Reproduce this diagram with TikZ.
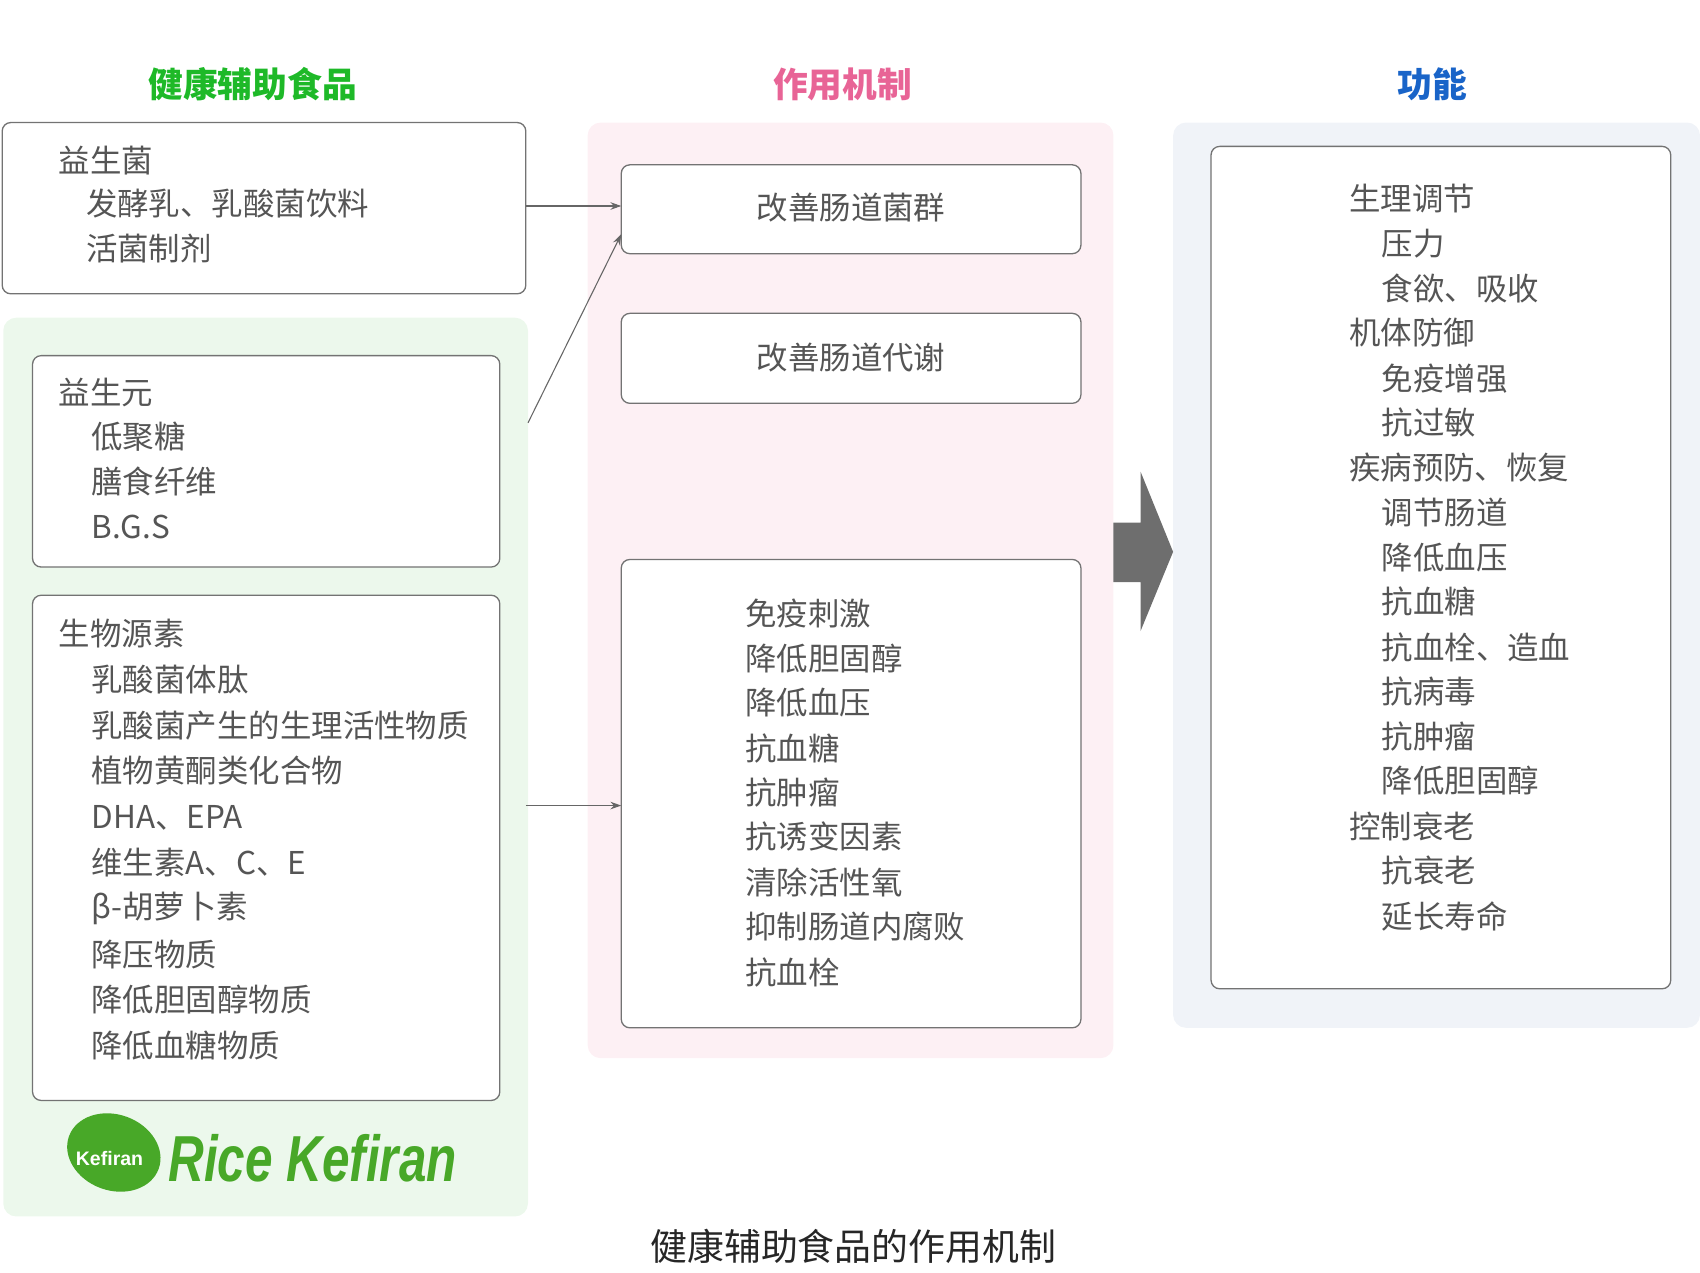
\documentclass[tikz,border=0pt]{standalone}
\usepackage{fontspec}
\setmainfont{Noto Sans CJK SC}
\newfontfamily\logofont{Liberation Sans}
\usetikzlibrary{arrows.meta}
\definecolor{txt}{RGB}{85,85,85}
\definecolor{hgreen}{RGB}{30,185,40}
\definecolor{hpink}{RGB}{232,100,150}
\definecolor{hblue}{RGB}{25,100,200}
\definecolor{bggreen}{RGB}{236,248,236}
\definecolor{bgpink}{RGB}{253,240,244}
\definecolor{bgblue}{RGB}{240,243,248}
\definecolor{logog}{RGB}{72,168,40}
\begin{document}
\begin{tikzpicture}[x=0.5pt,y=-0.5pt,
  box/.style={draw=black!55,fill=white,rounded corners=4pt,line width=0.6pt},
  bg/.style={rounded corners=6pt},
  t/.style={anchor=west,text=txt,font=\fontsize{14.5}{16}\selectfont,inner sep=0},
  hd/.style={font=\fontsize{16}{18}\selectfont\bfseries},
  con/.style={draw=black!60,line width=0.5pt,-{Stealth[length=5pt,width=3.5pt]}}]
\useasboundingbox (0,0) rectangle (1568,1174);
% headers
\node[hd,text=hgreen] (h1) at (233,78) {健康辅助食品};
\node[hd,text=hpink] (h2) at (777,78) {作用机制};
\node[hd,text=hblue] (h3) at (1321,78) {功能};
% backgrounds
\fill[bg,bggreen] (3,293) rectangle (487,1122);
\fill[bg,bgpink] (542,113) rectangle (1027,976);
\fill[bg,bgblue] (1082,113) rectangle (1568,948);
% left boxes
\draw[box] (2,113) rectangle (485,271);
\node[t] (a1) at (54,148) {益生菌};
\node[t] (a2) at (79,188) {发酵乳、乳酸菌饮料};
\node[t] (a3) at (79,229) {活菌制剂};
\draw[box] (30,328) rectangle (461,523);
\node[t] (b0) at (54,362) {益生元};
\foreach \s/\y [count=\i] in {低聚糖/403,膳食纤维/444,B.G.S/486}
  \node[t] (b\i) at (84,\y) {\s};
\draw[box] (30,549) rectangle (461,1015);
\node[t] (c0) at (54,584) {生物源素};
\foreach \s/\y [count=\i] in {乳酸菌体肽/627,乳酸菌产生的生理活性物质/669,植物黄酮类化合物/711,DHA、EPA/754,维生素A、C、E/796,β-胡萝卜素/838,降压物质/880,降低胆固醇物质/922,降低血糖物质/964}
  \node[t] (c\i) at (84,\y) {\s};
% logo
\fill[logog,rotate around={-20:(105,1063)}] (105,1063) ellipse (44 and 35);
\node[text=white,font=\logofont\bfseries\fontsize{9}{10}\selectfont] (lg1) at (101,1069) {Kefiran};
\node[text=logog,font=\logofont\bfseries\itshape\fontsize{30}{32}\selectfont,xscale=0.76,anchor=west] (lg2) at (150,1068) {Rice Kefiran};
% middle boxes
\draw[box] (573,152) rectangle (997,234);
\node[t,anchor=center] (m1) at (785,191) {改善肠道菌群};
\draw[box] (573,289) rectangle (997,372);
\node[t,anchor=center] (m2) at (785,330) {改善肠道代谢};
\draw[box] (573,516) rectangle (997,948);
\foreach \s/\y [count=\i] in {免疫刺激/566,降低胆固醇/607,降低血压/648,抗血糖/690,抗肿瘤/731,抗诱变因素/772,清除活性氧/814,抑制肠道内腐败/855,抗血栓/897}
  \node[t] (n\i) at (687,\y) {\s};
% right box
\draw[box] (1117,135) rectangle (1541,912);
\foreach \s/\x/\y [count=\i] in {生理调节/1244/183,压力/1274/225,食欲、吸收/1274/266,机体防御/1244/307,免疫增强/1274/349,抗过敏/1274/390,疾病预防、恢复/1244/431,调节肠道/1274/473,降低血压/1274/514,抗血糖/1274/555,抗血栓、造血/1274/597,抗病毒/1274/638,抗肿瘤/1274/679,降低胆固醇/1274/720,控制衰老/1244/762,抗衰老/1274/803,延长寿命/1274/845}
  \node[t] (f\i) at (\x,\y) {\s};
% big arrow
\fill[black!57] (1027,482) -- (1052,482) -- (1052,435) -- (1082,509) -- (1052,582) -- (1052,537) -- (1027,537) -- cycle;
% connectors
\coordinate (p1) at (485,190); \coordinate (q1) at (573,190);
\coordinate (p2) at (487,390); \coordinate (q2) at (573,216);
\coordinate (p3) at (485,743); \coordinate (q3) at (573,743);
\draw[con] (p1) -- (q1);
\draw[con] (p2) -- (q2);
\draw[con] (p3) -- (q3);
% caption
\node[text=black!85,font=\fontsize{17}{19}\selectfont] (cap) at (787,1150) {健康辅助食品的作用机制};
\end{tikzpicture}
\end{document}
